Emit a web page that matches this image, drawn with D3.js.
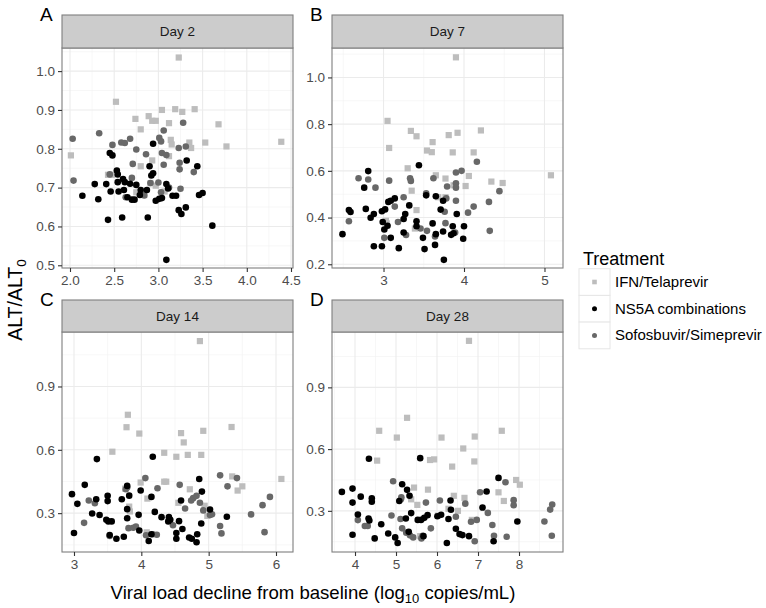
<!DOCTYPE html>
<html><head><meta charset="utf-8">
<script src="https://cdn.jsdelivr.net/npm/d3@7"></script>
<style>body{margin:0;background:#fff}svg{display:block;font-family:"Liberation Sans",Arial,sans-serif}</style>
</head><body><svg id="c" width="766" height="608"></svg>
<script>
// ---------- DATA ----------
const treatments = ["IFN/Telaprevir", "NS5A combinations", "Sofosbuvir/Simeprevir"];
const panelTitles = ["Day 2", "Day 7", "Day 14", "Day 28"];
const panelLetters = ["A", "B", "C", "D"];

const day2_IFN = [[3.23,1.035],[2.52,0.921],[3.04,0.90],[3.19,0.902],[3.27,0.895],[3.41,0.902],[2.74,0.877],[2.89,0.884],[2.93,0.872],[2.97,0.872],[3.12,0.866],[3.68,0.863],[2.80,0.85],[3.14,0.823],[3.15,0.811],[3.35,0.816],[3.37,0.802],[3.53,0.816],[3.77,0.806],[4.39,0.818],[2.01,0.783],[3.12,0.781],[2.93,0.77],[2.80,0.755],[2.43,0.733],[2.48,0.733],[2.91,0.711],[2.97,0.705],[2.75,0.688],[2.84,0.681],[3.07,0.69]];
const day2_SOF = [[2.03,0.826],[2.33,0.84],[2.48,0.81],[2.58,0.816],[2.62,0.815],[2.68,0.826],[2.75,0.798],[2.86,0.786],[3.06,0.847],[3.01,0.828],[3.03,0.819],[3.28,0.867],[3.23,0.802],[3.31,0.806],[3.04,0.789],[3.09,0.784],[3.24,0.764],[3.24,0.747],[3.06,0.759],[2.71,0.761],[3.40,0.74],[2.04,0.718],[2.91,0.712],[3.0,0.713],[2.70,0.725],[3.25,0.697],[3.03,0.688],[2.63,0.675],[2.84,0.68],[3.12,0.70],[2.45,0.734]];
const day2_NS5A = [[2.94,0.813],[2.45,0.789],[2.48,0.783],[3.32,0.77],[3.44,0.755],[2.90,0.755],[2.53,0.744],[2.54,0.734],[2.94,0.737],[2.92,0.731],[2.60,0.722],[2.62,0.714],[2.54,0.714],[2.28,0.709],[2.41,0.709],[2.14,0.679],[2.32,0.67],[2.46,0.69],[2.55,0.69],[2.61,0.694],[2.75,0.707],[2.65,0.675],[2.70,0.669],[2.73,0.669],[2.68,0.71],[2.80,0.694],[2.87,0.694],[2.79,0.681],[3.09,0.709],[3.11,0.698],[2.97,0.666],[3.01,0.671],[3.04,0.673],[3.16,0.679],[3.20,0.679],[3.46,0.681],[3.50,0.686],[3.23,0.642],[3.26,0.632],[3.31,0.649],[2.43,0.617],[2.59,0.623],[2.88,0.623],[3.61,0.602],[3.09,0.514]];

const day7_IFN = [[3.90,1.086],[3.05,0.814],[3.07,0.698],[3.34,0.771],[3.41,0.748],[3.81,0.753],[3.92,0.763],[4.21,0.773],[3.61,0.723],[3.54,0.687],[3.60,0.68],[3.86,0.679],[4.12,0.679],[3.30,0.611],[5.08,0.581],[3.65,0.581],[3.77,0.567],[3.87,0.538],[4.02,0.535],[4.06,0.578],[4.34,0.554],[4.48,0.548],[3.35,0.515],[3.41,0.432],[3.39,0.353],[3.68,0.487],[3.77,0.487],[3.03,0.386],[3.04,0.375]];
const day7_SOF = [[4.16,0.639],[2.69,0.568],[2.81,0.563],[2.90,0.528],[3.07,0.558],[3.33,0.568],[3.34,0.557],[3.62,0.568],[3.90,0.593],[3.97,0.60],[3.79,0.533],[3.90,0.547],[3.90,0.528],[4.44,0.513],[2.57,0.384],[3.14,0.447],[3.25,0.487],[3.18,0.381],[3.01,0.313],[3.28,0.325],[3.46,0.353],[3.54,0.343],[3.76,0.425],[3.77,0.376],[3.90,0.472],[4.05,0.421],[4.12,0.447],[4.31,0.467],[4.32,0.343],[3.89,0.336],[3.64,0.319],[3.78,0.482],[3.53,0.504]];
const day7_NS5A = [[3.44,0.624],[2.81,0.599],[2.76,0.528],[2.57,0.432],[2.59,0.424],[2.78,0.437],[2.84,0.399],[2.88,0.415],[2.49,0.329],[2.98,0.427],[3.02,0.435],[3.06,0.467],[3.09,0.472],[3.14,0.482],[3.32,0.452],[3.27,0.415],[3.25,0.394],[3.41,0.384],[3.41,0.363],[3.53,0.495],[3.65,0.491],[3.74,0.472],[3.71,0.434],[3.91,0.415],[3.61,0.375],[3.86,0.363],[4.0,0.363],[2.99,0.381],[3.05,0.365],[3.01,0.349],[3.09,0.313],[3.25,0.336],[2.98,0.277],[2.88,0.277],[3.19,0.269],[3.49,0.313],[3.51,0.265],[3.64,0.283],[3.65,0.329],[3.74,0.340],[3.84,0.326],[3.99,0.309],[3.75,0.219],[3.87,0.333]];

const day14_IFN = [[4.87,1.115],[3.80,0.766],[3.78,0.707],[3.97,0.677],[5.34,0.708],[4.59,0.679],[4.92,0.69],[4.63,0.635],[3.57,0.591],[4.34,0.586],[4.52,0.567],[4.69,0.576],[4.89,0.576],[5.35,0.474],[5.50,0.427],[5.43,0.407],[6.08,0.462],[4.72,0.413],[4.37,0.449],[4.34,0.449],[3.99,0.445],[3.76,0.416],[4.09,0.369],[3.82,0.331],[3.83,0.308],[4.55,0.349],[4.94,0.335],[4.08,0.209],[4.98,0.287]];
const day14_SOF = [[5.17,0.479],[5.42,0.466],[5.28,0.427],[4.06,0.466],[4.24,0.418],[4.57,0.434],[4.77,0.371],[4.82,0.382],[4.74,0.36],[4.87,0.349],[4.65,0.322],[4.92,0.313],[5.02,0.291],[5.05,0.295],[5.63,0.294],[5.80,0.338],[5.91,0.377],[5.83,0.21],[5.17,0.239],[5.19,0.204],[4.47,0.243],[3.79,0.421],[3.77,0.413],[3.22,0.36],[3.31,0.347],[3.15,0.254],[3.53,0.192],[3.81,0.229],[3.88,0.231],[3.92,0.236],[4.07,0.195],[4.17,0.2],[4.23,0.198]];
const day14_NS5A = [[3.34,0.556],[4.17,0.567],[2.97,0.39],[3.05,0.344],[3.16,0.434],[3.33,0.366],[3.50,0.382],[3.50,0.357],[3.71,0.366],[3.79,0.429],[3.82,0.383],[3.99,0.407],[4.15,0.377],[4.86,0.462],[4.90,0.402],[4.59,0.36],[5.02,0.317],[3.27,0.298],[3.38,0.291],[3.48,0.269],[3.51,0.261],[3.56,0.261],[3.79,0.276],[3.96,0.292],[3.97,0.218],[3.79,0.319],[4.20,0.306],[4.30,0.281],[4.41,0.281],[4.43,0.269],[4.40,0.261],[4.56,0.262],[4.61,0.225],[4.52,0.206],[4.52,0.179],[4.89,0.251],[5.27,0.283],[3.0,0.206],[3.63,0.179],[3.74,0.188],[4.11,0.168],[4.15,0.2],[4.71,0.185],[4.75,0.179],[4.83,0.2],[4.82,0.162],[3.53,0.196]];

const day28_IFN = [[6.78,1.126],[5.27,0.752],[4.59,0.689],[5.02,0.656],[6.11,0.656],[7.58,0.689],[6.92,0.661],[6.64,0.603],[4.54,0.544],[5.83,0.547],[5.93,0.55],[6.37,0.515],[6.91,0.54],[5.44,0.413],[5.78,0.403],[6.41,0.373],[7.50,0.39],[7.63,0.348],[7.93,0.45],[8.02,0.427],[5.52,0.329],[6.67,0.363],[6.28,0.31],[6.51,0.30],[6.02,0.277],[5.37,0.356],[6.85,0.256],[5.59,0.177]];
const day28_SOF = [[4.93,0.444],[7.67,0.439],[7.05,0.39],[5.13,0.366],[5.12,0.356],[5.73,0.34],[6.07,0.35],[6.69,0.335],[7.24,0.29],[7.87,0.352],[7.87,0.327],[8.81,0.331],[8.76,0.306],[8.62,0.248],[8.80,0.179],[4.07,0.255],[4.24,0.226],[4.31,0.226],[4.89,0.277],[5.11,0.26],[5.25,0.194],[5.34,0.181],[5.42,0.171],[5.62,0.166],[5.65,0.179],[5.85,0.215],[6.46,0.271],[6.83,0.247],[6.97,0.256],[6.92,0.152],[7.35,0.231],[7.39,0.179],[7.70,0.174],[5.15,0.215]];
const day28_NS5A = [[4.34,0.553],[5.59,0.556],[7.50,0.46],[3.68,0.392],[3.94,0.408],[4.14,0.369],[3.94,0.34],[4.41,0.361],[4.41,0.344],[7.21,0.394],[5.15,0.429],[5.27,0.402],[5.33,0.373],[5.08,0.348],[6.33,0.35],[7.11,0.316],[4.07,0.282],[4.33,0.263],[4.35,0.253],[4.64,0.235],[3.94,0.184],[4.48,0.166],[4.81,0.19],[4.98,0.171],[5.04,0.144],[5.24,0.263],[5.37,0.289],[5.53,0.256],[5.61,0.256],[5.69,0.266],[5.77,0.279],[6.01,0.274],[6.10,0.281],[6.28,0.26],[6.34,0.305],[6.46,0.213],[6.55,0.187],[6.62,0.182],[6.78,0.177],[5.67,0.177],[6.24,0.144],[7.38,0.152],[7.96,0.248],[5.31,0.198]];

// axis domains and ticks per panel
const xDomains = [[1.9095,4.5226],[2.36,5.23],[2.822,6.2525],[3.439,9.073]];
const yDomains = [[0.493,1.0595],[0.184,1.126],[0.116,1.158],[0.100,1.169]];
const xTicks = [[2.0,2.5,3.0,3.5,4.0,4.5],[3,4,5],[3,4,5,6],[4,5,6,7,8]];
const yTicks = [[0.5,0.6,0.7,0.8,0.9,1.0],[0.2,0.4,0.6,0.8,1.0],[0.3,0.6,0.9],[0.3,0.6,0.9]];
const xFormats = [".1f","d","d","d"];
const yFormats = [".1f",".1f",".1f",".1f"];

// ---------- DRAW ----------
const svg = d3.select("#c");
const colors = {"IFN/Telaprevir":"#bdbdbd","NS5A combinations":"#000000","Sofosbuvir/Simeprevir":"#686868"};
const shapes = {"IFN/Telaprevir":"square","NS5A combinations":"circle","Sofosbuvir/Simeprevir":"circle"};
const panelData = [
  {"IFN/Telaprevir":day2_IFN,"NS5A combinations":day2_NS5A,"Sofosbuvir/Simeprevir":day2_SOF},
  {"IFN/Telaprevir":day7_IFN,"NS5A combinations":day7_NS5A,"Sofosbuvir/Simeprevir":day7_SOF},
  {"IFN/Telaprevir":day14_IFN,"NS5A combinations":day14_NS5A,"Sofosbuvir/Simeprevir":day14_SOF},
  {"IFN/Telaprevir":day28_IFN,"NS5A combinations":day28_NS5A,"Sofosbuvir/Simeprevir":day28_SOF}
];
const drawOrder = ["IFN/Telaprevir","Sofosbuvir/Simeprevir","NS5A combinations"];

const layout = [
  {l:62, t:48, w:231, h:220, st:15},
  {l:332, t:48, w:231, h:220, st:15},
  {l:62, t:332, w:231, h:220, st:300},
  {l:332, t:332, w:231, h:220, st:300}
];

function minorTicks(ticks, dom){
  const step = ticks[1]-ticks[0];
  const out = [];
  for (let v = ticks[0]-step/2; v <= dom[1]; v += step) if (v >= dom[0]) out.push(v);
  return out;
}

layout.forEach((L,i)=>{
  const x = d3.scaleLinear().domain(xDomains[i]).range([L.l, L.l+L.w]);
  const y = d3.scaleLinear().domain(yDomains[i]).range([L.t+L.h, L.t]);
  const g = svg.append("g");
  g.append("rect").attr("x",L.l).attr("y",L.t).attr("width",L.w).attr("height",L.h).attr("fill","#fff");
  minorTicks(xTicks[i], xDomains[i]).forEach(v=>{
    g.append("line").attr("x1",x(v)).attr("x2",x(v)).attr("y1",L.t).attr("y2",L.t+L.h).attr("stroke","#f2f2f2").attr("stroke-width",0.6);
  });
  minorTicks(yTicks[i], yDomains[i]).forEach(v=>{
    g.append("line").attr("y1",y(v)).attr("y2",y(v)).attr("x1",L.l).attr("x2",L.l+L.w).attr("stroke","#f2f2f2").attr("stroke-width",0.6);
  });
  xTicks[i].forEach(v=>{
    g.append("line").attr("x1",x(v)).attr("x2",x(v)).attr("y1",L.t).attr("y2",L.t+L.h).attr("stroke","#ebebeb").attr("stroke-width",1.1);
  });
  yTicks[i].forEach(v=>{
    g.append("line").attr("y1",y(v)).attr("y2",y(v)).attr("x1",L.l).attr("x2",L.l+L.w).attr("stroke","#ebebeb").attr("stroke-width",1.1);
  });
  const clip = "clip"+i;
  svg.append("clipPath").attr("id",clip).append("rect").attr("x",L.l).attr("y",L.t).attr("width",L.w).attr("height",L.h);
  const pg = g.append("g").attr("clip-path",`url(#${clip})`);
  drawOrder.forEach(t=>{
    const pts = panelData[i][t];
    if (shapes[t]==="square"){
      pg.selectAll(null).data(pts).enter().append("rect")
        .attr("x",d=>x(d[0])-3.1).attr("y",d=>y(d[1])-3.1).attr("width",6.2).attr("height",6.2)
        .attr("fill",colors[t]);
    } else {
      pg.selectAll(null).data(pts).enter().append("circle")
        .attr("cx",d=>x(d[0])).attr("cy",d=>y(d[1])).attr("r",3.3)
        .attr("fill",colors[t]);
    }
  });
  g.append("rect").attr("x",L.l).attr("y",L.t).attr("width",L.w).attr("height",L.h).attr("fill","none").attr("stroke","#7f7f7f").attr("stroke-width",1.1);
  g.append("rect").attr("x",L.l).attr("y",L.st).attr("width",L.w).attr("height",L.t-L.st).attr("fill","#cccccc").attr("stroke","#7f7f7f").attr("stroke-width",1.1);
  g.append("text").attr("x",L.l+L.w/2).attr("y",(L.st+L.t)/2+4.8).attr("text-anchor","middle")
    .attr("font-size",13.5).attr("fill","#1a1a1a").text(panelTitles[i]);
  const xa = g.append("g").attr("transform",`translate(0,${L.t+L.h})`)
    .call(d3.axisBottom(x).tickValues(xTicks[i]).tickFormat(d3.format(xFormats[i])).tickSize(4).tickPadding(3));
  const ya = g.append("g").attr("transform",`translate(${L.l},0)`)
    .call(d3.axisLeft(y).tickValues(yTicks[i]).tickFormat(d3.format(yFormats[i])).tickSize(4).tickPadding(3));
  [xa,ya].forEach(a=>{
    a.select(".domain").remove();
    a.selectAll(".tick line").attr("stroke","#333").attr("stroke-width",1.1);
    a.selectAll(".tick text").attr("fill","#4d4d4d").attr("font-size",13.5).attr("font-family","Liberation Sans, Arial, sans-serif");
  });
  svg.append("text").attr("x",L.l-22).attr("y",L.st+6).attr("font-size",19).attr("fill","#000").text(panelLetters[i]);
});

// axis titles
svg.append("text").attr("x",313).attr("y",599).attr("text-anchor","middle").attr("font-size",18.6).attr("fill","#000")
  .html('Viral load decline from baseline (log<tspan font-size="13" dy="4">10</tspan><tspan dy="-4"> copies/mL)</tspan>');
svg.append("text").attr("transform","translate(22,300) rotate(-90)").attr("text-anchor","middle").attr("font-size",19.5).attr("fill","#000")
  .html('ALT/ALT<tspan font-size="13.5" dy="4">0</tspan>');

// legend
const lg = svg.append("g");
lg.append("text").attr("x",583).attr("y",265).attr("font-size",18).attr("fill","#000").text("Treatment");
treatments.forEach((t,k)=>{
  const cy = 282 + k*26.7;
  lg.append("rect").attr("x",579).attr("y",cy-13.3).attr("width",31).attr("height",26.7).attr("fill","#fff").attr("stroke","#e6e6e6").attr("stroke-width",1);
  if (shapes[t]==="square") lg.append("rect").attr("x",594.5-2.3).attr("y",cy-2.3).attr("width",4.6).attr("height",4.6).attr("fill",colors[t]);
  else lg.append("circle").attr("cx",594.5).attr("cy",cy).attr("r",2.5).attr("fill",colors[t]);
  lg.append("text").attr("x",615).attr("y",cy+5).attr("font-size",15).attr("fill","#000").text(t);
});
</script></body></html>
